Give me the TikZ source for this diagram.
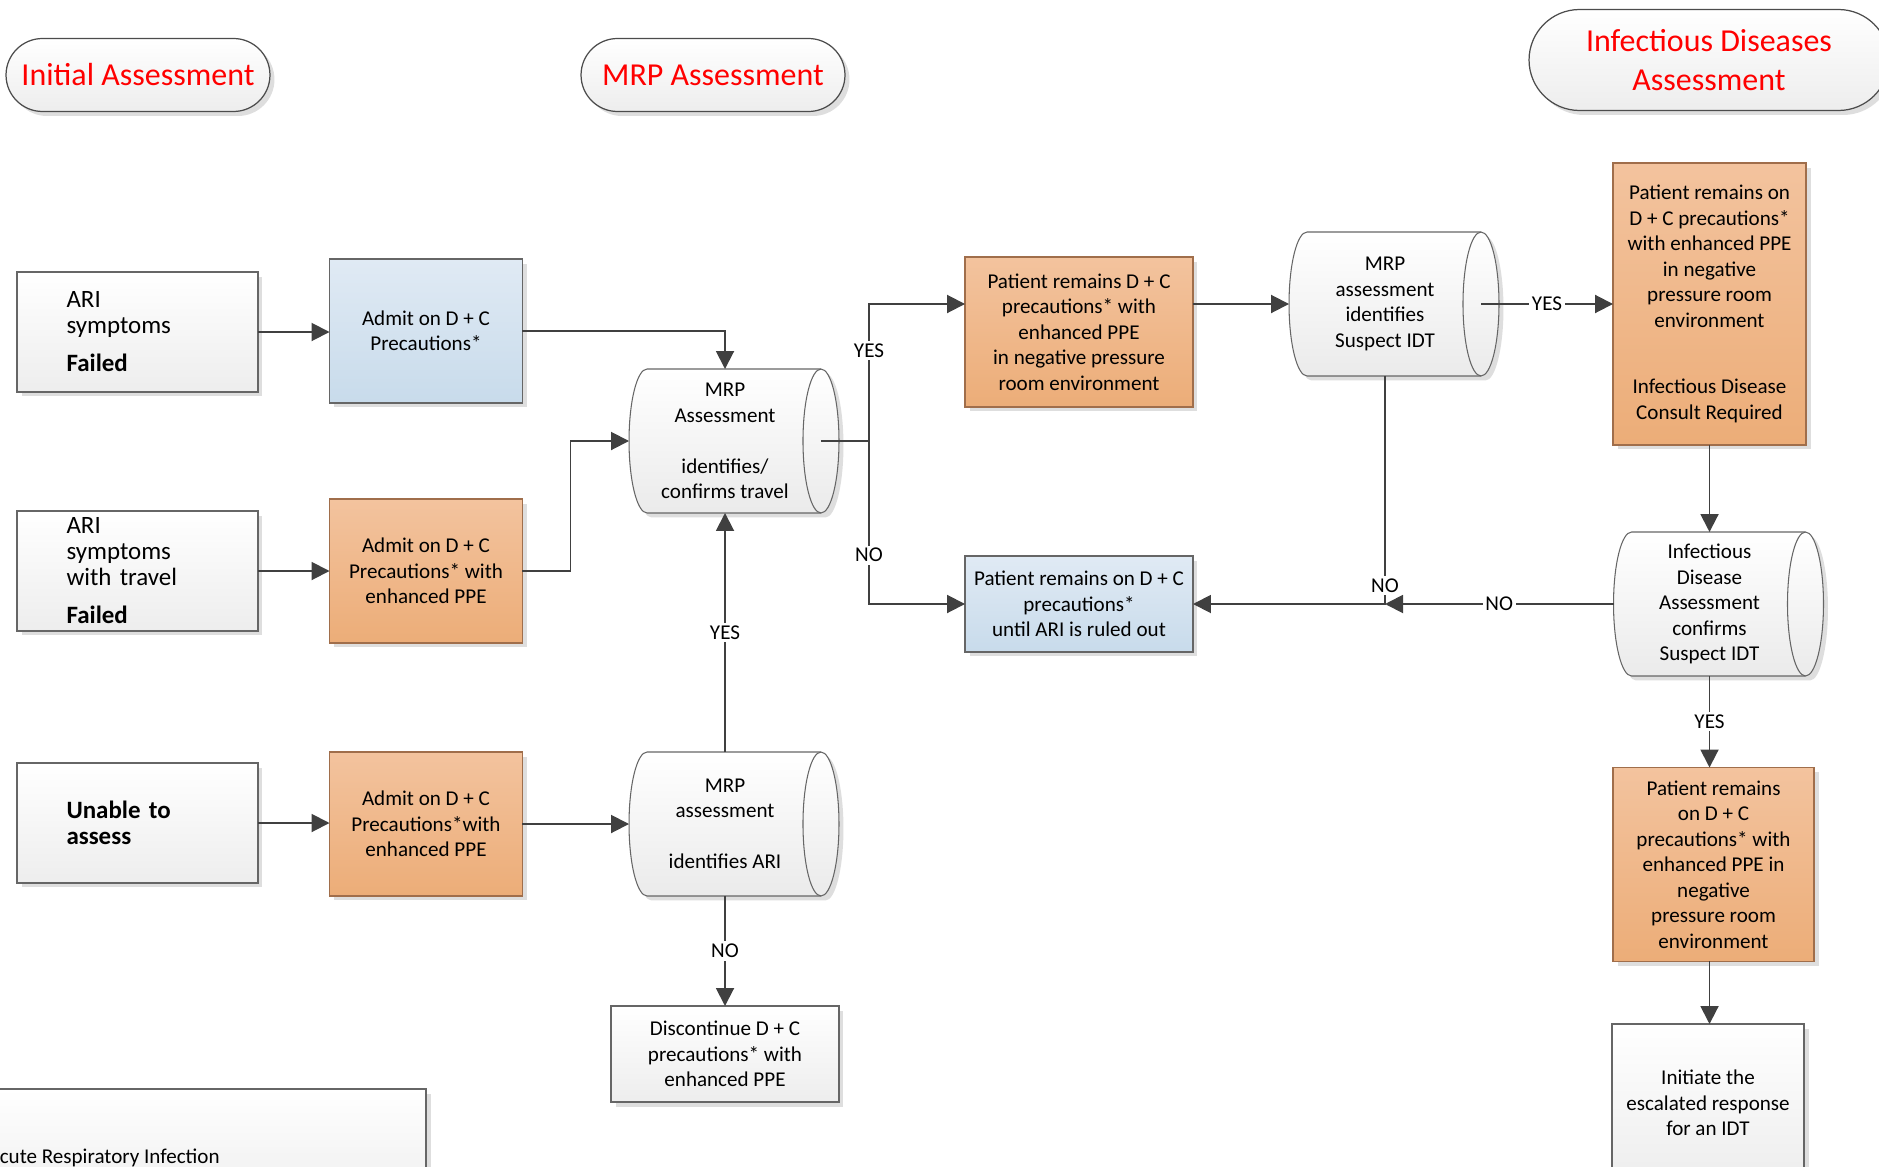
\documentclass[tikz,border=0pt]{standalone}
\usepackage{fontspec}
\setmainfont{Carlito}
\usetikzlibrary{arrows.meta,calc,shadows,backgrounds}
\definecolor{blu1}{RGB}{224,234,244}
\definecolor{blu2}{RGB}{200,219,235}
\definecolor{ora1}{RGB}{243,195,158}
\definecolor{ora2}{RGB}{236,173,120}
\definecolor{obrd}{RGB}{160,110,75}
\definecolor{lnc}{RGB}{64,64,64}
\tikzset{
	box/.style={draw=black!60,line width=0.7pt,align=center,outer sep=0pt,inner sep=2pt,
		font=\fontsize{12}{14.5}\selectfont,
		drop shadow={shadow xshift=0.09cm,shadow yshift=-0.09cm,fill=black!13,opacity=1}},
	wbox/.style={box,top color=white,bottom color=black!7},
	bbox/.style={box,top color=blu1,bottom color=blu2},
	obox/.style={box,draw=obrd,top color=ora1,bottom color=ora2},
	sbox/.style={wbox,minimum width=4.82cm,minimum height=2.4cm,text width=2.84cm,align=left,
		font=\fontsize{14.2}{14.8}\selectfont},
	pill/.style={box,top color=white,bottom color=black!7,draw=black!70,text=red,
		font=\fontsize{18.2}{21.8}\selectfont},
	ddata/.style={minimum width=3.84cm,minimum height=2.88cm,align=center,outer sep=0pt,inner sep=0pt,
		font=\fontsize{12}{14.5}\selectfont},
	ddline/.style={draw=black!60,line width=0.6pt},
	ln/.style={draw=lnc,line width=1.1pt},
	arr/.style={ln,-{Triangle[length=0.36cm,width=0.36cm]}},
	lab/.style={fill=white,inner sep=1.5pt,font=\fontsize{12}{14.5}\selectfont}
}
\begin{document}
\begin{tikzpicture}[x=0.02cm,y=0.02cm]
\useasboundingbox (0,0) rectangle (1879,-1166);

\node [pill,minimum width=5.28cm,minimum height=1.46cm,rounded corners=0.73cm] (pinit) at (138,-75) {Initial Assessment};
\node [pill,minimum width=5.28cm,minimum height=1.46cm,rounded corners=0.73cm] (pmrp) at (713,-75) {MRP Assessment};
\node [pill,minimum width=7.2cm,minimum height=2.02cm,rounded corners=1.01cm] (pid) at (1709,-60) {Infectious Diseases\\Assessment};

\node [sbox] (aria) at (137.5,-332) {ARI\\symptoms\\[0.24cm]\textbf{Failed}};
\node [sbox] (arib) at (137.5,-571) {ARI\\symptoms\\with travel\\[0.24cm]\textbf{Failed}};
\node [sbox,font=\bfseries\fontsize{14.2}{14.8}\selectfont] (unab) at (137.5,-823) {Unable to\\assess};

\node [bbox,minimum width=3.86cm,minimum height=2.88cm] (adma) at (426,-331) {Admit on D + C\\Precautions*};
\node [obox,minimum width=3.86cm,minimum height=2.88cm] (admb) at (426,-571) {Admit on D + C\\Precautions* with\\enhanced PPE};
\node [obox,minimum width=3.86cm,minimum height=2.88cm] (admc) at (426,-824) {Admit on D + C\\Precautions*with\\enhanced PPE};

\node [ddata] (mrpa) at (725,-441) {MRP\\Assessment\\[0.51cm]identifies/\\confirms travel};
\node [ddata] (mrpb) at (725,-824) {MRP\\assessment\\[0.51cm]identifies ARI};
\node [wbox,minimum width=4.56cm,minimum height=1.92cm] (disc) at (725,-1054) {Discontinue D + C\\precautions* with\\enhanced PPE};

\node [obox,minimum width=4.56cm,minimum height=3cm] (ora) at (1079,-332) {Patient remains D + C\\precautions* with\\enhanced PPE\\in negative pressure\\room environment};
\node [bbox,minimum width=4.56cm,minimum height=1.92cm] (blb) at (1079,-604) {Patient remains on D + C\\precautions*\\until ARI is ruled out};
\node [ddata] (mrpc) at (1385,-304) {MRP\\assessment\\identifies\\Suspect IDT};

\node [obox,minimum width=3.86cm,minimum height=5.64cm] (orb) at (1709.5,-304) {Patient remains on\\D + C precautions*\\with enhanced PPE\\in negative\\pressure room\\environment\\[0.82cm]Infectious Disease\\Consult Required};
\node [ddata] (idc) at (1709.5,-604) {Infectious\\Disease\\Assessment\\confirms\\Suspect IDT};
\node [obox,minimum width=4.02cm,minimum height=3.88cm] (orc) at (1713.5,-864.5) {Patient remains\\on D + C\\precautions* with\\enhanced PPE in\\negative\\pressure room\\environment};
\node [wbox,minimum width=3.84cm,minimum height=3.16cm] (init) at (1708,-1103) {Initiate the\\escalated response\\for an IDT};

\node [wbox,minimum width=9cm,minimum height=2.4cm,anchor=north east] (leg) at (426,-1089) {};
\node [anchor=base east,inner sep=0pt,font=\fontsize{12}{14.5}\selectfont] (legt) at (220,-1163) {Acute Respiratory Infection};

\begin{scope}[on background layer]
\foreach \n in {mrpa,mrpb,mrpc,idc} {
	\fill [black!13,transform canvas={xshift=0.09cm,yshift=-0.09cm}] ($(\n.north west)+(18,0)$) -- (\n.north east) arc [start angle=90,end angle=-90,x radius=0.36cm,y radius=1.44cm] -- ($(\n.south west)+(18,0)$) arc [start angle=270,end angle=90,x radius=0.36cm,y radius=1.44cm] -- cycle;
	\draw [ddline,top color=white,bottom color=black!8] ($(\n.north west)+(18,0)$) -- (\n.north east) arc [start angle=90,end angle=-90,x radius=0.36cm,y radius=1.44cm] -- ($(\n.south west)+(18,0)$) arc [start angle=270,end angle=90,x radius=0.36cm,y radius=1.44cm] -- cycle;
	\draw [ddline] (\n.north east) arc [start angle=90,end angle=270,x radius=0.36cm,y radius=1.44cm];
}
\end{scope}

\draw [arr] (aria.east) -- (aria.east -| adma.west);
\draw [arr] (arib.east) -- (arib.east -| admb.west);
\draw [arr] (unab.east) -- (unab.east -| admc.west);
\draw [arr] (adma.east) -| (mrpa.north);
\draw [arr] (admb.east) -- ++(48,0) |- (mrpa.west);
\draw [arr] (admc.east) -- (mrpb.west);
\draw [arr] (mrpb.north) -- node [lab] {YES} (mrpa.south);
\draw [arr] (mrpb.south) -- node [lab] {NO} (disc.north);
\coordinate (br) at (869,-441);
\draw [ln] (mrpa.east) -- (br);
\draw [arr] (br) |- node [lab,pos=0.33] {YES} (ora.west |- mrpc.west);
\draw [arr] (br) |- node [lab,pos=0.35] {NO} (blb.west);
\draw [arr] (ora.east |- mrpc.west) -- (mrpc.west);
\draw [arr] (mrpc.east) -- node [lab] {YES} (orb.west);
\draw [arr] (orb.south) -- (idc.north);
\coordinate (jn) at (mrpc.south |- blb.east);
\draw [arr] (idc.west) -- node [lab] {NO} (jn);
\draw [arr] (mrpc.south) -- node [lab,pos=0.92] {NO} (jn) -- (blb.east);
\draw [arr] (idc.south) -- node [lab] {YES} (idc.south |- orc.north);
\draw [arr] (idc.south |- orc.south) -- (idc.south |- init.north);
\end{tikzpicture}
\end{document}
